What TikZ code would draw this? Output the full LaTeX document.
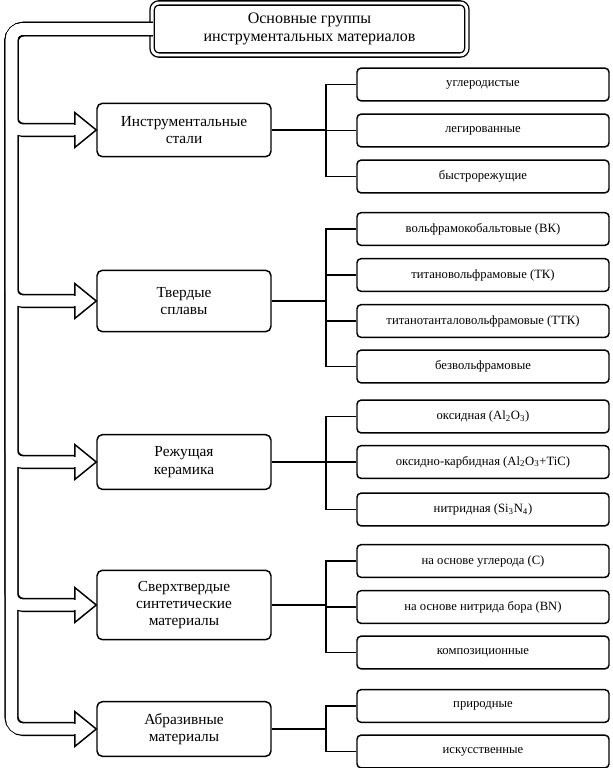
\documentclass[tikz,border=0pt]{standalone}
\usepackage{fontspec}
\setmainfont{Liberation Serif}
\begin{document}
\begin{tikzpicture}[x=0.75pt,y=-0.75pt,
  lbox/.style={draw,line width=1.1pt,rounded corners=4pt,minimum width=130.5pt,align=center,font=\fontsize{11.5}{13}\selectfont,inner sep=0pt},
  rbox/.style={draw,line width=1.1pt,rounded corners=3pt,minimum width=189pt,minimum height=24.5pt,inner sep=0pt,font=\fontsize{9.5}{11}\selectfont},
  con/.style={line width=1.1pt},
  bandB/.style={line width=10.6pt,rounded corners=9pt},
  bandW/.style={line width=8.4pt,white,rounded corners=8pt},
  ahead/.style={draw,fill=white,line width=1.1pt,line join=miter}]
\useasboundingbox (0,0) rectangle (612,768);
\node[draw,double,double distance=2.2pt,line width=1pt,rounded corners=5pt,minimum width=236pt,minimum height=39pt,align=center,font=\fontsize{12}{14}\selectfont,inner sep=0pt] (top) at (309.5,29) {Основные группы\\инструментальных материалов};
\node[lbox,minimum height=40pt] (L1) at (184,130) {Инструментальные\\стали};
\node[lbox,minimum height=46pt] (L2) at (184,301) {Твердые\\сплавы};
\node[lbox,minimum height=41pt] (L3) at (184,462) {Режущая\\керамика};
\node[lbox,minimum height=52pt] (L4) at (184,605) {Сверхтвердые\\синтетические\\материалы};
\node[lbox,minimum height=41pt] (L5) at (184,729) {Абразивные\\материалы};
\coordinate (tr) at (326,0);
\coordinate (bd) at (11.5,0);
% right boxes
\node[rbox] (a1) at (483,84.5) {углеродистые};
\node[rbox] (a2) at (483,130.5) {легированные};
\node[rbox] (a3) at (483,176.5) {быстрорежущие};
\node[rbox] (b1) at (483,229) {вольфрамокобальтовые (ВК)};
\node[rbox] (b2) at (483,275) {титановольфрамовые (ТК)};
\node[rbox] (b3) at (483,321) {титанотанталовольфрамовые (ТТК)};
\node[rbox] (b4) at (483,366.5) {безвольфрамовые};
\node[rbox] (c1) at (483,416.5) {оксидная (Al\textsubscript{2}O\textsubscript{3})};
\node[rbox] (c2) at (483,462) {оксидно-карбидная (Al\textsubscript{2}O\textsubscript{3}+TiC)};
\node[rbox] (c3) at (483,509.5) {нитридная (Si\textsubscript{3}N\textsubscript{4})};
\node[rbox] (d1) at (483,561) {на основе углерода (С)};
\node[rbox] (d2) at (483,607) {на основе нитрида бора (BN)};
\node[rbox] (d3) at (483,652.5) {композиционные};
\node[rbox] (e1) at (483,706) {природные};
\node[rbox] (e2) at (483,751.5) {искусственные};
% tree connectors
\draw[con] (L1.east) -- (L1.east -| tr);
\draw[con] (a1.west) -- (a1.west -| tr) -- (a3.west -| tr) -- (a3.west);
\draw[con] (a2.west) -- (a2.west -| tr);
\draw[con] (L2.east) -- (L2.east -| tr);
\draw[con] (b1.west) -- (b1.west -| tr) -- (b4.west -| tr) -- (b4.west);
\draw[con] (b2.west) -- (b2.west -| tr);
\draw[con] (b3.west) -- (b3.west -| tr);
\draw[con] (L3.east) -- (L3.east -| tr);
\draw[con] (c1.west) -- (c1.west -| tr) -- (c3.west -| tr) -- (c3.west);
\draw[con] (c2.west) -- (c2.west -| tr);
\draw[con] (L4.east) -- (L4.east -| tr);
\draw[con] (d1.west) -- (d1.west -| tr) -- (d3.west -| tr) -- (d3.west);
\draw[con] (d2.west) -- (d2.west -| tr);
\draw[con] (L5.east) -- (L5.east -| tr);
\draw[con] (e1.west) -- (e1.west -| tr) -- (e2.west -| tr) -- (e2.west);
% hollow band arrows
\foreach \s in {bandB,bandW}{
  \foreach \n in {L1,L2,L3,L4,L5}{
    \draw[\s] ([xshift=1pt]top.west) -| (bd |- \n.west) -- ([xshift=-15pt]\n.west);
  }
}
\foreach \n in {L1,L2,L3,L4,L5}{
  \draw[ahead] ([xshift=-16pt,yshift=13pt]\n.west) -- (\n.west) -- ([xshift=-16pt,yshift=-13pt]\n.west) -- cycle;
  \fill[white] ([xshift=-17pt,yshift=4.1pt]\n.west) rectangle ([xshift=-15pt,yshift=-4.1pt]\n.west);
}
\end{tikzpicture}
\end{document}
